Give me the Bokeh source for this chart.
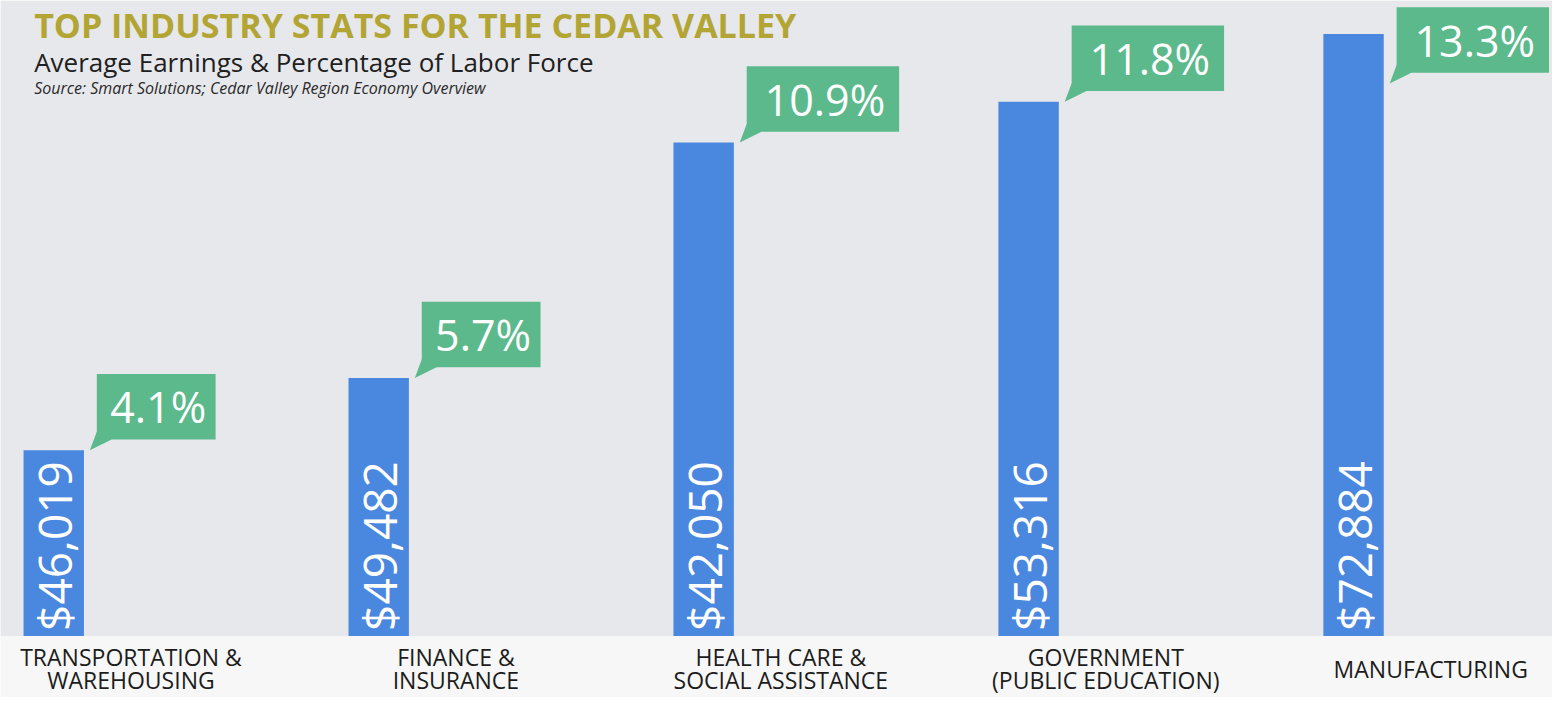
import math
from bokeh.plotting import figure
from bokeh.models import Range1d, BoxAnnotation, Label
from bokeh.embed import file_html
from bokeh.resources import INLINE
from bokeh.core.properties import value

# ---------------- data ----------------
categories = [
    "TRANSPORTATION &\nWAREHOUSING",
    "FINANCE &\nINSURANCE",
    "HEALTH CARE &\nSOCIAL ASSISTANCE",
    "GOVERNMENT\n(PUBLIC EDUCATION)",
    "MANUFACTURING",
]
labor_pct = [4.1, 5.7, 10.9, 11.8, 13.3]
earnings = [46019, 49482, 42050, 53316, 72884]

title_text = "TOP INDUSTRY STATS FOR THE CEDAR VALLEY"
subtitle_text = "Average Earnings & Percentage of Labor Force"
source_text = "Source: Smart Solutions; Cedar Valley Region Economy Overview"

# ---------------- style ----------------
BLUE = "#4a87df"
GREEN = "#5cb98b"
GOLD = "#b3a534"
GRAY_BG = "#e7e8ec"
LOW_BG = "#f7f7f7"
FONT = "Open Sans"

W, H = 1552, 697
SX, SY = W / 1568, H / 713          # fit the 1568x713 layout into the figure
PX_X = 328.3 * SX                   # pixels per category step
PX_Y = 46.3 * SY                    # pixels per percentage point
X0 = -53.8 * SX / PX_X
Y1 = 650 * SY / PX_Y


def py(ref_y):
    """data y for a pixel row of the 1568x713 layout"""
    return Y1 - ref_y * SY / PX_Y


p = figure(width=W, height=H,
           x_range=Range1d(X0, X0 + W / PX_X),
           y_range=Range1d(Y1 - H / PX_Y, Y1),
           output_backend="svg", toolbar_location=None, min_border=0,
           background_fill_color=LOW_BG, border_fill_color=LOW_BG,
           outline_line_color=None)
p.axis.visible = False
p.grid.visible = False

p.add_layout(BoxAnnotation(bottom=0, fill_color=GRAY_BG, fill_alpha=1.0,
                           line_alpha=0, level="underlay"))

xs = list(range(len(categories)))
bw = 61 * SX / PX_X
p.vbar(x=xs, top=labor_pct, bottom=0, width=bw, color=BLUE, line_alpha=0)

# earnings, rotated inside the bars
earn_labels = ["${:,}".format(v) for v in earnings]
p.text(x=xs, y=[5 / PX_Y] * len(xs), text=earn_labels, angle=math.pi / 2,
       text_align="left", text_baseline="middle", text_color="white",
       text_font=value(FONT), text_font_size="46px")

# callouts with percentage of labor force
pct_labels = ["{:.1f}%".format(v) for v in labor_pct]
box_h = 67 * SY / PX_Y
lefts, rights, bottoms, tops = [], [], [], []
tail_xs, tail_ys, tx, ty = [], [], [], []
for i, (v, lbl) in enumerate(zip(labor_pct, pct_labels)):
    L = i + bw / 2 + 13 * SX / PX_X
    R = L + (34 * len(lbl) - 16) * SX / PX_X
    T = min(v + 11 * SY / PX_Y + box_h, py(7))
    B = T - box_h
    lefts.append(L); rights.append(R); bottoms.append(B); tops.append(T)
    tail_xs.append([L, L + 15 * SX / PX_X, L - 7 * SX / PX_X])
    tail_ys.append([B + 8 * SY / PX_Y, B, B - 11 * SY / PX_Y])
    tx.append((L + R) / 2 + 2 * SX / PX_X)
    ty.append((B + T) / 2)

p.quad(left=lefts, right=rights, bottom=bottoms, top=tops,
       color=GREEN, line_alpha=0)
p.patches(xs=tail_xs, ys=tail_ys, color=GREEN, line_alpha=0)
p.text(x=tx, y=ty, text=pct_labels, text_align="center",
       text_baseline="middle", text_color="white",
       text_font=value(FONT), text_font_size="43px")

# category labels below the bars
lx, ly, lt = [], [], []
for i, c in enumerate(categories):
    parts = c.split("\n")
    cx = i + 78 * SX / PX_X
    if len(parts) == 1:
        lx.append(cx); ly.append(py(684)); lt.append(parts[0])
    else:
        lx.append(cx); ly.append(py(672)); lt.append(parts[0])
        lx.append(cx); ly.append(py(695)); lt.append(parts[1])
p.text(x=lx, y=ly, text=lt, text_align="center", text_baseline="middle",
       text_color="#1c1c1c", text_font=value(FONT), text_font_size="23px")

# titles
p.add_layout(Label(x=34 * SX, y=H - 25 * SY, x_units="screen", y_units="screen",
                   text=title_text, text_color=GOLD, text_font=FONT,
                   text_font_size="34px", text_font_style="bold",
                   text_baseline="middle"))
p.add_layout(Label(x=34 * SX, y=H - 63 * SY, x_units="screen", y_units="screen",
                   text=subtitle_text, text_color="#202020", text_font=FONT,
                   text_font_size="26px", text_baseline="middle"))
p.add_layout(Label(x=34 * SX, y=H - 89 * SY, x_units="screen", y_units="screen",
                   text=source_text, text_color="#2a2a2a", text_font=FONT,
                   text_font_size="16px", text_font_style="italic",
                   text_baseline="middle"))

open("out.html", "w").write(file_html(p, INLINE))
